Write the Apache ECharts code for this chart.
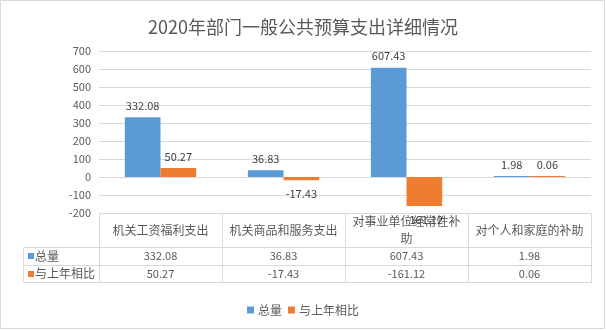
<!DOCTYPE html>
<html>
<head>
<meta charset="utf-8">
<script src="https://cdn.jsdelivr.net/npm/echarts@6/dist/echarts.min.js"></script>
<style>
  html, body { margin: 0; padding: 0; background: #fff; }
  #chart { width: 606px; height: 330px; }
</style>
</head>
<body>
<div id="chart"></div>
<script>
// Chart content
const titleText = '2020年部门一般公共预算支出详细情况';
const categories = ['机关工资福利支出', '机关商品和服务支出', '对事业单位经常性补助', '对个人和家庭的补助'];
const seriesNames = ['总量', '与上年相比'];
const totalValues = [332.08, 36.83, 607.43, 1.98];
const changeValues = [50.27, -17.43, -161.12, 0.06];
const seriesColors = ['#5B9BD5', '#ED7D31'];
const yMin = -200, yMax = 700, yStep = 100;

// Styling
const FONT = '"Noto Sans CJK SC", "Noto Sans", sans-serif';
const TEXT = '#595959';
const LABEL = '#404040';
const LINE = '#D9D9D9';

const fmt = v => v.toFixed(2);

// Value labels sit outside the bar end: above positive bars, below negative ones
function barData(values) {
  return values.map(v => ({
    value: v,
    label: { position: v < 0 ? 'bottom' : 'top', distance: v < 0 ? 8 : 6 }
  }));
}

const chart = echarts.init(document.getElementById('chart'), null, { renderer: 'canvas' });

chart.setOption({
  animation: false,
  textStyle: { fontFamily: FONT },
  title: {
    text: titleText,
    left: 'center',
    top: 13,
    textStyle: { fontSize: 18, fontWeight: 'normal', color: TEXT, fontFamily: FONT }
  },
  legend: {
    data: seriesNames,
    left: 'center',
    top: 299,
    icon: 'rect',
    itemWidth: 7,
    itemHeight: 7,
    itemGap: 6,
    textStyle: { fontSize: 12, color: TEXT, fontFamily: FONT, padding: [0, 0, 0, -1] }
  },
  grid: { left: 99, right: 15, top: 51, bottom: 117, containLabel: false },
  xAxis: {
    type: 'category',
    data: categories,
    axisLine: { show: false },
    axisTick: { show: false },
    splitLine: { show: false },
    axisLabel: {
      interval: 0,
      width: 118,
      overflow: 'break',
      fontSize: 12,
      lineHeight: 17,
      color: TEXT,
      fontFamily: FONT,
      margin: 17,
      verticalAlign: 'middle'
    }
  },
  yAxis: {
    type: 'value',
    min: yMin,
    max: yMax,
    interval: yStep,
    axisLine: { show: false },
    axisTick: { show: false },
    axisLabel: { fontSize: 11, color: TEXT, fontFamily: FONT, margin: 8 },
    splitLine: { lineStyle: { color: LINE, width: 1 } }
  },
  series: [
    {
      name: seriesNames[0],
      type: 'bar',
      data: barData(totalValues),
      itemStyle: { color: seriesColors[0] },
      barGap: '0%',
      barCategoryGap: '42%',
      barMinHeight: 1,
      label: { show: true, formatter: p => fmt(p.value), fontSize: 11, color: LABEL, fontFamily: FONT }
    },
    {
      name: seriesNames[1],
      type: 'bar',
      data: barData(changeValues),
      itemStyle: { color: seriesColors[1] },
      barGap: '0%',
      barCategoryGap: '42%',
      barMinHeight: 1,
      label: { show: true, formatter: p => fmt(p.value), fontSize: 11, color: LABEL, fontFamily: FONT }
    }
  ]
});

// Data table under the plot, aligned to the category axis
(function drawTable() {
  const c0 = chart.convertToPixel({ xAxisIndex: 0 }, categories[0]);
  const c1 = chart.convertToPixel({ xAxisIndex: 0 }, categories[1]);
  const band = c1 - c0;
  const tableLeft = c0 - band / 2;
  const tableRight = tableLeft + band * categories.length;
  const top = chart.convertToPixel({ yAxisIndex: 0 }, yMin);
  const headerH = 34, rowH = [18, 17];
  const row1Top = top + headerH;
  const row2Top = row1Top + rowH[0];
  const tableBottom = row2Top + rowH[1];
  const keyLeft = 23;
  const px = v => Math.round(v) + 0.5;

  const els = [];
  const line = (x1, y1, x2, y2) => els.push({
    type: 'line', silent: true, z: 1,
    shape: { x1: px(x1), y1: px(y1), x2: px(x2), y2: px(y2) },
    style: { stroke: LINE, lineWidth: 1 }
  });

  // column borders
  for (let i = 0; i <= categories.length; i++) {
    const x = tableLeft + band * i;
    line(x, top, x, tableBottom);
  }
  line(keyLeft, row1Top, keyLeft, tableBottom);
  // row borders
  [row1Top, row2Top, tableBottom].forEach(y => line(keyLeft, y, tableRight, y));

  // row keys and values
  const rows = [totalValues, changeValues];
  const rowTops = [row1Top, row2Top];
  rows.forEach((vals, r) => {
    const cy = rowTops[r] + rowH[r] / 2;
    els.push({
      type: 'rect', silent: true, z: 2,
      shape: { x: 28, y: Math.round(cy) - 3, width: 6, height: 6 },
      style: { fill: seriesColors[r] }
    });
    els.push({
      type: 'text', silent: true, z: 2, x: 35, y: cy,
      style: { text: seriesNames[r], font: '12px ' + FONT, fill: TEXT, align: 'left', verticalAlign: 'middle' }
    });
    vals.forEach((v, i) => {
      els.push({
        type: 'text', silent: true, z: 2, x: c0 + band * i, y: cy,
        style: { text: fmt(v), font: '11px ' + FONT, fill: TEXT, align: 'center', verticalAlign: 'middle' }
      });
    });
  });

  // chart frame
  els.push({
    type: 'rect', silent: true, z: 0,
    shape: { x: 0.5, y: 0.5, width: 604, height: 328 },
    style: { fill: 'none', stroke: LINE, lineWidth: 1 }
  });

  chart.setOption({ graphic: els });
})();
</script>
</body>
</html>
